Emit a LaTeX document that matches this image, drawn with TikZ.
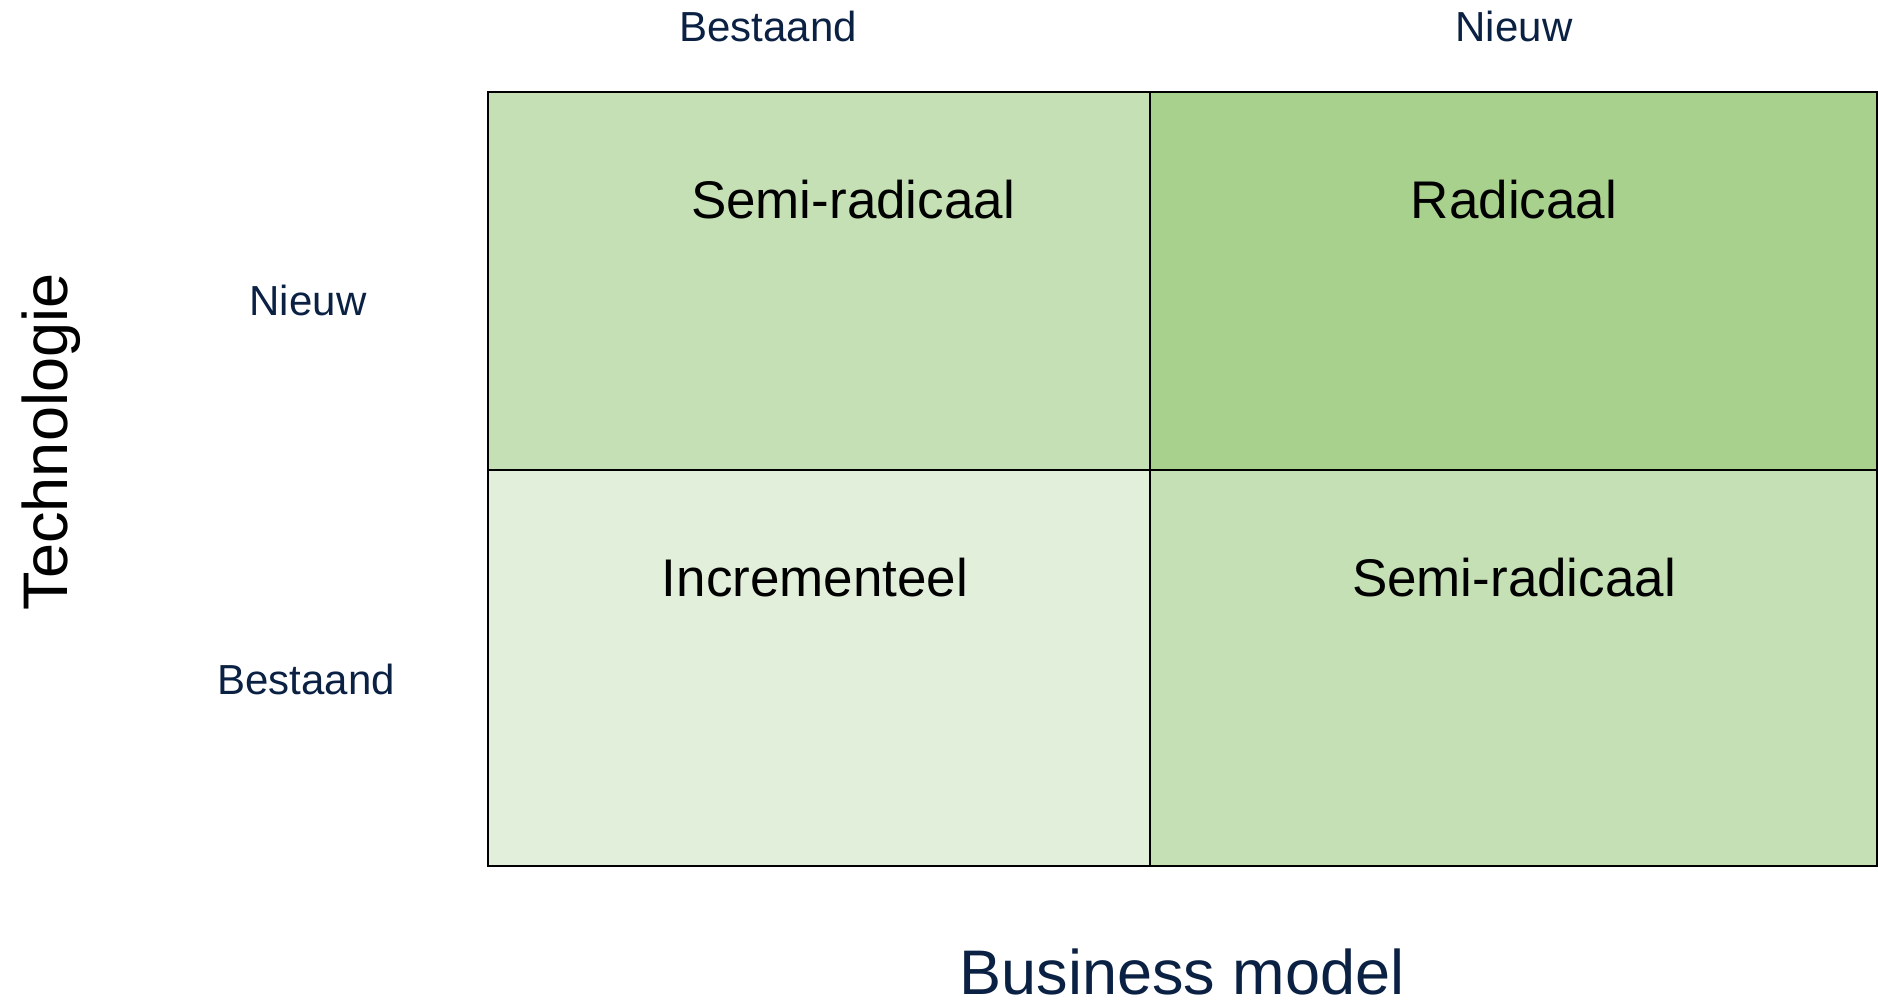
\documentclass[tikz,border=0pt]{standalone}
\usepackage{fontspec}
\setmainfont{Liberation Sans}
\definecolor{navy}{HTML}{0B2143}
\definecolor{gmid}{HTML}{C5E0B4}
\definecolor{gdark}{HTML}{A9D18E}
\definecolor{glight}{HTML}{E2EFDA}
\begin{document}
\begin{tikzpicture}[x=1pt,y=-1pt,
  cell/.style={draw=black,line width=1.5pt},
  small/.style={inner sep=0pt,anchor=base,text=navy,font=\fontsize{42}{48}\selectfont},
  quad/.style={inner sep=0pt,anchor=base,text=black,font=\fontsize{53}{60}\selectfont},
  axis/.style={inner sep=0pt,anchor=base,font=\fontsize{63}{70}\selectfont}]
\useasboundingbox (0,0) rectangle (1878,1001);
\fill[white] (0,0) rectangle (1878,1001);
\fill[gmid]   (488,92)  rectangle (1150,470);
\fill[gdark]  (1150,92) rectangle (1877,470);
\fill[glight] (488,470) rectangle (1150,866);
\fill[gmid]   (1150,470) rectangle (1877,866);
\draw[cell] (488,92) rectangle (1877,866);
\draw[cell] (1150,92) -- (1150,866);
\draw[cell] (488,470) -- (1877,470);
\node[quad] (tl) at (853,218) {Semi-radicaal};
\node[quad] (tr) at (1514,218) {Radicaal};
\node[quad] (bl) at (815,596) {Incrementeel};
\node[quad] (br) at (1514,596) {Semi-radicaal};
\node[small] (cb) at (768,41) {Bestaand};
\node[small] (cn) at (1514,41) {Nieuw};
\node[small] (rn) at (308,315) {Nieuw};
\node[small] (rb) at (306,694) {Bestaand};
\node[axis,text=navy,text depth=0pt] (bm) at (1182,994) {Business model};
\node[axis,text=black,rotate=90] (tech) at (67,442) {Technologie};
\end{tikzpicture}
\end{document}
